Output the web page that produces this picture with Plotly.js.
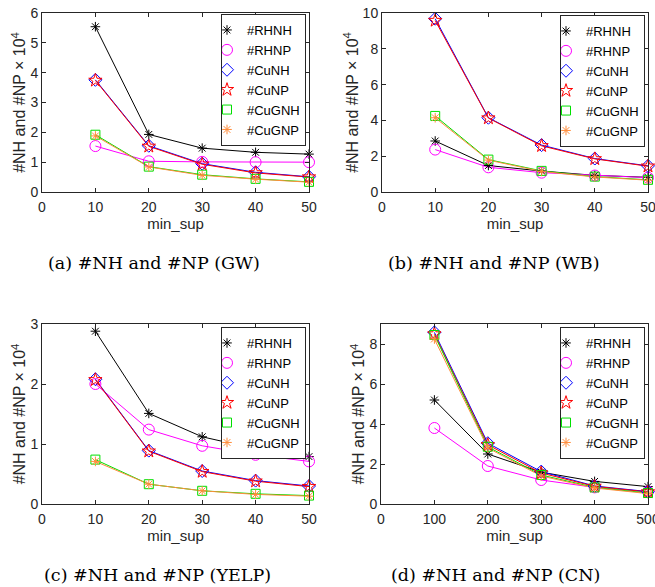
<!DOCTYPE html>
<html>
<head>
<meta charset="utf-8">
<script src="https://cdn.plot.ly/plotly-3.0.1.min.js"></script>
<style>html,body{margin:0;padding:0;background:#fff;}#chart{width:655px;height:587px;}</style>
</head>
<body>
<div id="chart"></div>
<script>
// ---- data (values in units of 10^4) ----
var seriesNames = ["#RHNH", "#RHNP", "#CuNH", "#CuNP", "#CuGNH", "#CuGNP"];
var minSupSmall = [10, 20, 30, 40, 50];
var minSupCN = [100, 200, 300, 400, 500];

// (a) GW
var gwRHNH = [5.54, 1.93, 1.47, 1.33, 1.27];
var gwRHNP = [1.54, 1.03, 1.01, 1.00, 1.00];
var gwCuNH = [3.76, 1.55, 0.95, 0.66, 0.51];
var gwCuNP = [3.74, 1.53, 0.93, 0.64, 0.50];
var gwCuGNH = [1.92, 0.85, 0.58, 0.44, 0.34];
var gwCuGNP = [1.88, 0.84, 0.56, 0.43, 0.33];

// (b) WB
var wbRHNH = [2.85, 1.48, 1.17, 0.93, 0.82];
var wbRHNP = [2.37, 1.38, 1.08, 0.92, 0.80];
var wbCuNH = [9.68, 4.15, 2.62, 1.87, 1.46];
var wbCuNP = [9.58, 4.13, 2.58, 1.85, 1.44];
var wbCuGNH = [4.25, 1.81, 1.18, 0.86, 0.68];
var wbCuGNP = [4.15, 1.78, 1.15, 0.84, 0.66];

// (c) YELP
var yelpRHNH = [2.88, 1.51, 1.12, 0.92, 0.79];
var yelpRHNP = [2.00, 1.24, 0.97, 0.82, 0.71];
var yelpCuNH = [2.08, 0.89, 0.55, 0.39, 0.30];
var yelpCuNP = [2.07, 0.88, 0.54, 0.38, 0.29];
var yelpCuGNH = [0.74, 0.33, 0.22, 0.17, 0.14];
var yelpCuGNP = [0.71, 0.33, 0.22, 0.16, 0.13];

// (d) CN
var cnRHNH = [5.20, 2.50, 1.59, 1.13, 0.87];
var cnRHNP = [3.80, 1.90, 1.20, 0.83, 0.62];
var cnCuNH = [8.58, 3.04, 1.62, 0.90, 0.62];
var cnCuNP = [8.50, 2.96, 1.55, 0.88, 0.60];
var cnCuGNH = [8.45, 2.86, 1.45, 0.83, 0.55];
var cnCuGNP = [8.25, 2.80, 1.40, 0.80, 0.52];

var captions = ["(a) #NH and #NP (GW)", "(b) #NH and #NP (WB)", "(c) #NH and #NP (YELP)", "(d) #NH and #NP (CN)"];
var xTitle = "min_sup";
var yTitle = "#NH and #NP \u00d7 10<sup>4</sup>";

// ---- styles ----
var colors = ["#000000", "#FF00FF", "#0000FF", "#FF0000", "#00E000", "#FF8C3A"];
var symbols = ["asterisk-open", "circle-open", "diamond-open", "star-open", "square-open", "asterisk-open"];
var sizes = [8, 11, 10, 10, 9, 8];

var panels = [
  {x: minSupSmall, ys: [gwRHNH, gwRHNP, gwCuNH, gwCuNP, gwCuGNH, gwCuGNP]},
  {x: minSupSmall, ys: [wbRHNH, wbRHNP, wbCuNH, wbCuNP, wbCuGNH, wbCuGNP]},
  {x: minSupSmall, ys: [yelpRHNH, yelpRHNP, yelpCuNH, yelpCuNP, yelpCuGNH, yelpCuGNP]},
  {x: minSupCN, ys: [cnRHNH, cnRHNP, cnCuNH, cnCuNP, cnCuGNH, cnCuGNP]}
];

var W = 655, H = 587;
function px(v) { return v / W; }
function py(v) { return 1 - v / H; }

// plot boxes in pixels: [left, right, top, bottom]
var boxes = [[42, 309, 13, 192], [382, 648, 13, 192], [42, 309, 324, 504], [381, 648, 324, 504]];
var yRanges = [[0, 6], [0, 10], [0, 3], [0, 9]];
var yDticks = [1, 2, 1, 2];
var xRanges = [[0, 50], [0, 50], [0, 50], [0, 500]];
var xDticks = [10, 10, 10, 100];
var legendPos = [[306, 14], [645, 15], [306, 327], [645, 327]];
var captionPos = [[154, 263], [494, 263], [157, 575], [495, 575]];

var traces = [];
var layout = {
  width: W, height: H,
  margin: {l: 0, r: 0, t: 0, b: 0},
  paper_bgcolor: "#fff", plot_bgcolor: "#fff",
  font: {family: "Liberation Sans, Arial, sans-serif", size: 14, color: "#262626"},
  showlegend: true,
  annotations: []
};

var tickFont = {family: "Liberation Sans, Arial, sans-serif", size: 14, color: "#262626"};
var xTitleFont = {family: "Liberation Sans, Arial, sans-serif", size: 15, color: "#262626"};
var yTitleFont = {family: "Liberation Sans, Arial, sans-serif", size: 16, color: "#262626"};

panels.forEach(function (p, i) {
  var xa = i === 0 ? "x" : "x" + (i + 1);
  var ya = i === 0 ? "y" : "y" + (i + 1);
  var lg = i === 0 ? "legend" : "legend" + (i + 1);
  // connecting lines
  p.ys.forEach(function (yv, k) {
    traces.push({
      type: "scatter", mode: "lines", x: p.x, y: yv, name: seriesNames[k],
      xaxis: xa, yaxis: ya, showlegend: false,
      line: {color: colors[k], width: 1}, hoverinfo: "skip"
    });
  });
  // markers (these carry the legend)
  p.ys.forEach(function (yv, k) {
    traces.push({
      type: "scatter", mode: "markers",
      x: p.x, y: yv, name: seriesNames[k],
      xaxis: xa, yaxis: ya, legend: lg,
      marker: {color: colors[k], symbol: symbols[k], size: sizes[k], line: {color: colors[k], width: 1}},
      cliponaxis: false
    });
  });
  var b = boxes[i];
  var common = {
    showline: true, linecolor: "#262626", linewidth: 1, mirror: "ticks",
    ticks: "inside", ticklen: 4, tickcolor: "#262626", tickwidth: 1,
    showgrid: false, zeroline: false, tickfont: tickFont, automargin: false,
    ticklabeloverflow: "allow", fixedrange: true
  };
  layout[i === 0 ? "xaxis" : "xaxis" + (i + 1)] = Object.assign({}, common, {
    domain: [px(b[0]), px(b[1])], anchor: ya, range: xRanges[i], dtick: xDticks[i], tick0: 0,
    ticklabelstandoff: 2,
    title: {text: xTitle, font: xTitleFont, standoff: 3}
  });
  layout[i === 0 ? "yaxis" : "yaxis" + (i + 1)] = Object.assign({}, common, {
    domain: [py(b[3]), py(b[2])], anchor: xa, range: yRanges[i], dtick: yDticks[i], tick0: 0,
    title: {text: yTitle, font: yTitleFont, standoff: 0}
  });
  layout[lg] = {
    x: px(legendPos[i][0]), xanchor: "right", y: py(legendPos[i][1]), yanchor: "top",
    bgcolor: "#fff", bordercolor: "#262626", borderwidth: 1,
    font: {family: "Liberation Sans, Arial, sans-serif", size: 13, color: "#000"},
    itemwidth: 30, indentation: -15, tracegroupgap: 0
  };
  layout.annotations.push({
    xref: "paper", yref: "paper", x: px(captionPos[i][0]), y: py(captionPos[i][1]),
    xanchor: "center", yanchor: "middle", showarrow: false, text: captions[i],
    font: {family: "DejaVu Serif, serif", size: 17.5, color: "#000"}
  });
});

Plotly.newPlot("chart", traces, layout, {staticPlot: true});
</script>
</body>
</html>
